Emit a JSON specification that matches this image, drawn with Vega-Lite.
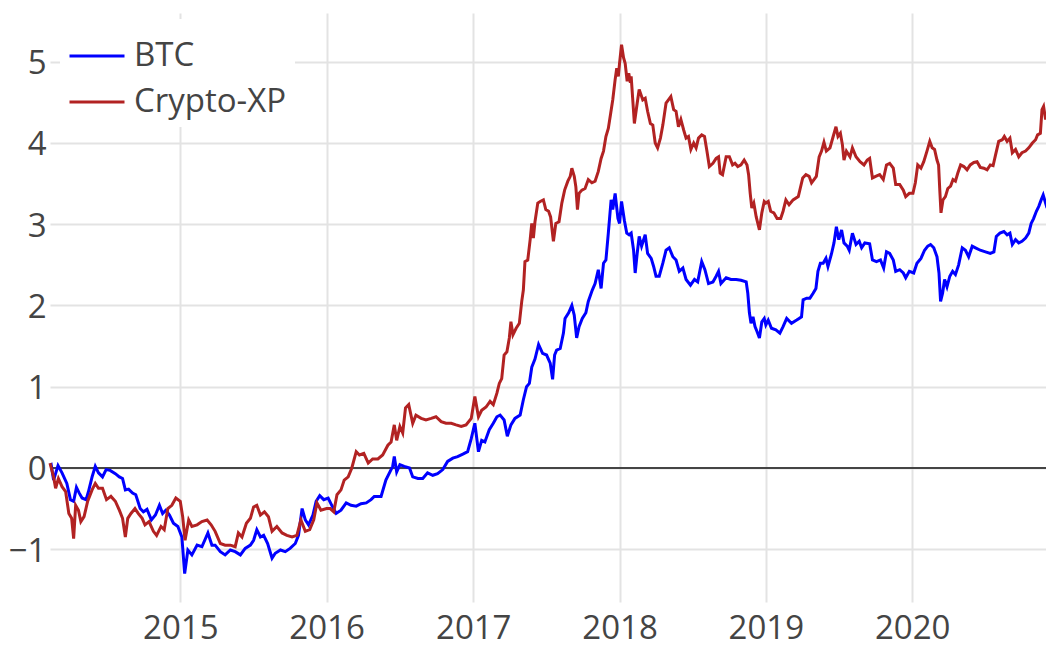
{
"$schema": "https://vega.github.io/schema/vega-lite/v6.json",
"width": 996, "height": 589,
"autosize": {"type": "none"},
"padding": {"left": 50, "top": 13, "right": 0, "bottom": 53},
"background": "white",
"config": {
  "view": {"stroke": null},
  "font": "Open Sans",
  "axis": {"domain": false, "ticks": false, "grid": true, "gridColor": "#e3e3e3", "gridWidth": 2, "labelFont": "Open Sans", "labelFontSize": 33, "labelColor": "#444", "title": null}
},
"datasets": {
"btc": [
{"d":"2014-02-10","v":0.03},{"d":"2014-02-13","v":0.04},{"d":"2014-02-19","v":-0.15},{"d":"2014-03-02","v":0.03},{"d":"2014-03-12","v":-0.06},{"d":"2014-03-24","v":-0.19},{"d":"2014-04-02","v":-0.39},{"d":"2014-04-10","v":-0.41},{"d":"2014-04-17","v":-0.24},{"d":"2014-04-24","v":-0.31},{"d":"2014-05-01","v":-0.37},{"d":"2014-05-11","v":-0.39},{"d":"2014-05-17","v":-0.29},{"d":"2014-05-26","v":-0.11},{"d":"2014-06-03","v":0.02},{"d":"2014-06-11","v":-0.06},{"d":"2014-06-21","v":-0.11},{"d":"2014-06-30","v":-0.02},{"d":"2014-07-10","v":-0.03},{"d":"2014-07-23","v":-0.07},{"d":"2014-08-02","v":-0.11},{"d":"2014-08-10","v":-0.13},{"d":"2014-08-17","v":-0.27},{"d":"2014-08-25","v":-0.26},{"d":"2014-09-04","v":-0.31},{"d":"2014-09-12","v":-0.33},{"d":"2014-09-23","v":-0.50},{"d":"2014-10-01","v":-0.54},{"d":"2014-10-10","v":-0.51},{"d":"2014-10-21","v":-0.64},{"d":"2014-10-31","v":-0.58},{"d":"2014-11-10","v":-0.46},{"d":"2014-11-18","v":-0.56},{"d":"2014-11-26","v":-0.52},{"d":"2014-12-05","v":-0.58},{"d":"2014-12-15","v":-0.68},{"d":"2014-12-26","v":-0.72},
{"d":"2015-01-05","v":-0.85},{"d":"2015-01-12","v":-1.30},{"d":"2015-01-20","v":-1.01},{"d":"2015-01-30","v":-1.07},{"d":"2015-02-12","v":-0.95},{"d":"2015-02-24","v":-0.97},{"d":"2015-03-11","v":-0.80},{"d":"2015-03-21","v":-0.95},{"d":"2015-03-29","v":-0.95},{"d":"2015-04-11","v":-1.03},{"d":"2015-04-23","v":-1.07},{"d":"2015-05-06","v":-1.01},{"d":"2015-05-18","v":-1.03},{"d":"2015-05-31","v":-1.07},{"d":"2015-06-12","v":-0.99},{"d":"2015-06-25","v":-0.95},{"d":"2015-07-03","v":-0.89},{"d":"2015-07-11","v":-0.76},{"d":"2015-07-20","v":-0.85},{"d":"2015-07-28","v":-0.83},{"d":"2015-08-07","v":-0.93},{"d":"2015-08-18","v":-1.11},{"d":"2015-08-26","v":-1.05},{"d":"2015-09-08","v":-1.01},{"d":"2015-09-20","v":-1.03},{"d":"2015-10-02","v":-0.99},{"d":"2015-10-15","v":-0.93},{"d":"2015-10-23","v":-0.83},{"d":"2015-11-01","v":-0.50},{"d":"2015-11-09","v":-0.64},{"d":"2015-11-17","v":-0.70},{"d":"2015-11-28","v":-0.58},{"d":"2015-12-06","v":-0.41},{"d":"2015-12-15","v":-0.34},{"d":"2015-12-25","v":-0.39},
{"d":"2016-01-05","v":-0.37},{"d":"2016-01-14","v":-0.46},{"d":"2016-01-25","v":-0.56},{"d":"2016-02-06","v":-0.52},{"d":"2016-02-19","v":-0.43},{"d":"2016-03-02","v":-0.46},{"d":"2016-03-15","v":-0.47},{"d":"2016-03-27","v":-0.44},{"d":"2016-04-09","v":-0.43},{"d":"2016-04-21","v":-0.39},{"d":"2016-04-29","v":-0.35},{"d":"2016-05-16","v":-0.35},{"d":"2016-05-28","v":-0.15},{"d":"2016-06-14","v":0.02},{"d":"2016-06-18","v":0.14},{"d":"2016-06-24","v":-0.05},{"d":"2016-07-02","v":0.04},{"d":"2016-07-13","v":0.02},{"d":"2016-07-26","v":0.00},{"d":"2016-08-03","v":-0.11},{"d":"2016-08-16","v":-0.13},{"d":"2016-08-28","v":-0.13},{"d":"2016-09-09","v":-0.06},{"d":"2016-09-22","v":-0.09},{"d":"2016-10-04","v":-0.07},{"d":"2016-10-17","v":-0.02},{"d":"2016-10-29","v":0.08},{"d":"2016-11-11","v":0.12},{"d":"2016-11-23","v":0.14},{"d":"2016-12-06","v":0.17},{"d":"2016-12-18","v":0.20},{"d":"2016-12-27","v":0.36},
{"d":"2017-01-05","v":0.55},{"d":"2017-01-14","v":0.20},{"d":"2017-01-22","v":0.34},{"d":"2017-01-30","v":0.32},{"d":"2017-02-10","v":0.47},{"d":"2017-02-20","v":0.55},{"d":"2017-03-01","v":0.63},{"d":"2017-03-09","v":0.65},{"d":"2017-03-19","v":0.59},{"d":"2017-03-27","v":0.39},{"d":"2017-04-05","v":0.53},{"d":"2017-04-15","v":0.61},{"d":"2017-04-28","v":0.65},{"d":"2017-05-06","v":0.84},{"d":"2017-05-14","v":1.00},{"d":"2017-05-21","v":1.04},{"d":"2017-05-27","v":1.24},{"d":"2017-06-04","v":1.34},{"d":"2017-06-13","v":1.52},{"d":"2017-06-23","v":1.41},{"d":"2017-07-03","v":1.39},{"d":"2017-07-12","v":1.29},{"d":"2017-07-18","v":1.09},{"d":"2017-07-23","v":1.39},{"d":"2017-07-28","v":1.45},{"d":"2017-08-06","v":1.47},{"d":"2017-08-14","v":1.66},{"d":"2017-08-18","v":1.84},{"d":"2017-08-27","v":1.91},{"d":"2017-09-04","v":2.00},{"d":"2017-09-10","v":1.88},{"d":"2017-09-16","v":1.60},{"d":"2017-09-22","v":1.74},{"d":"2017-09-30","v":1.84},{"d":"2017-10-09","v":1.91},{"d":"2017-10-15","v":2.05},{"d":"2017-10-25","v":2.19},{"d":"2017-11-01","v":2.27},{"d":"2017-11-09","v":2.44},{"d":"2017-11-16","v":2.21},{"d":"2017-11-22","v":2.52},{"d":"2017-11-28","v":2.56},{"d":"2017-12-04","v":2.89},{"d":"2017-12-11","v":3.30},{"d":"2017-12-15","v":3.18},{"d":"2017-12-21","v":3.38},{"d":"2017-12-28","v":3.07},
{"d":"2018-01-01","v":3.01},{"d":"2018-01-06","v":3.28},{"d":"2018-01-13","v":3.05},{"d":"2018-01-19","v":2.89},{"d":"2018-01-25","v":2.87},{"d":"2018-01-30","v":2.89},{"d":"2018-02-05","v":2.68},{"d":"2018-02-09","v":2.40},{"d":"2018-02-14","v":2.64},{"d":"2018-02-19","v":2.85},{"d":"2018-02-25","v":2.73},{"d":"2018-03-06","v":2.87},{"d":"2018-03-12","v":2.64},{"d":"2018-03-21","v":2.58},{"d":"2018-03-27","v":2.48},{"d":"2018-04-02","v":2.36},{"d":"2018-04-10","v":2.36},{"d":"2018-04-19","v":2.52},{"d":"2018-04-27","v":2.68},{"d":"2018-05-05","v":2.71},{"d":"2018-05-14","v":2.60},{"d":"2018-05-22","v":2.56},{"d":"2018-05-30","v":2.42},{"d":"2018-06-08","v":2.46},{"d":"2018-06-16","v":2.32},{"d":"2018-06-27","v":2.25},{"d":"2018-07-07","v":2.32},{"d":"2018-07-15","v":2.29},{"d":"2018-07-25","v":2.54},{"d":"2018-08-02","v":2.44},{"d":"2018-08-11","v":2.27},{"d":"2018-08-22","v":2.29},{"d":"2018-08-30","v":2.36},{"d":"2018-09-05","v":2.42},{"d":"2018-09-11","v":2.27},{"d":"2018-09-24","v":2.34},{"d":"2018-10-06","v":2.32},{"d":"2018-10-19","v":2.32},{"d":"2018-10-31","v":2.31},{"d":"2018-11-13","v":2.29},{"d":"2018-11-17","v":2.15},{"d":"2018-11-21","v":1.91},{"d":"2018-11-25","v":1.78},{"d":"2018-11-30","v":1.86},{"d":"2018-12-05","v":1.74},{"d":"2018-12-10","v":1.68},{"d":"2018-12-16","v":1.60},{"d":"2018-12-22","v":1.80},{"d":"2018-12-28","v":1.84},
{"d":"2019-01-01","v":1.76},{"d":"2019-01-07","v":1.82},{"d":"2019-01-15","v":1.72},{"d":"2019-01-26","v":1.70},{"d":"2019-02-05","v":1.66},{"d":"2019-02-13","v":1.74},{"d":"2019-02-22","v":1.84},{"d":"2019-03-06","v":1.78},{"d":"2019-03-19","v":1.82},{"d":"2019-03-25","v":1.84},{"d":"2019-03-31","v":1.86},{"d":"2019-04-04","v":2.07},{"d":"2019-04-13","v":2.09},{"d":"2019-04-21","v":2.09},{"d":"2019-04-29","v":2.15},{"d":"2019-05-06","v":2.21},{"d":"2019-05-11","v":2.42},{"d":"2019-05-17","v":2.52},{"d":"2019-05-24","v":2.52},{"d":"2019-05-31","v":2.58},{"d":"2019-06-05","v":2.48},{"d":"2019-06-14","v":2.64},{"d":"2019-06-20","v":2.77},{"d":"2019-06-26","v":2.97},{"d":"2019-07-02","v":2.81},{"d":"2019-07-09","v":2.93},{"d":"2019-07-15","v":2.77},{"d":"2019-07-23","v":2.73},{"d":"2019-07-28","v":2.68},{"d":"2019-08-05","v":2.89},{"d":"2019-08-14","v":2.75},{"d":"2019-08-22","v":2.79},{"d":"2019-08-28","v":2.71},{"d":"2019-09-05","v":2.77},{"d":"2019-09-17","v":2.76},{"d":"2019-09-24","v":2.56},{"d":"2019-10-04","v":2.54},{"d":"2019-10-14","v":2.56},{"d":"2019-10-22","v":2.46},{"d":"2019-10-29","v":2.66},{"d":"2019-11-06","v":2.64},{"d":"2019-11-15","v":2.56},{"d":"2019-11-21","v":2.42},{"d":"2019-12-01","v":2.44},{"d":"2019-12-10","v":2.40},{"d":"2019-12-16","v":2.34},{"d":"2019-12-25","v":2.42},
{"d":"2020-01-05","v":2.40},{"d":"2020-01-13","v":2.52},{"d":"2020-01-23","v":2.58},{"d":"2020-02-01","v":2.68},{"d":"2020-02-09","v":2.73},{"d":"2020-02-16","v":2.75},{"d":"2020-02-24","v":2.71},{"d":"2020-03-03","v":2.60},{"d":"2020-03-08","v":2.40},{"d":"2020-03-12","v":2.05},{"d":"2020-03-17","v":2.15},{"d":"2020-03-22","v":2.32},{"d":"2020-03-28","v":2.23},{"d":"2020-04-04","v":2.36},{"d":"2020-04-11","v":2.42},{"d":"2020-04-18","v":2.38},{"d":"2020-04-26","v":2.50},{"d":"2020-05-05","v":2.71},{"d":"2020-05-13","v":2.68},{"d":"2020-05-21","v":2.60},{"d":"2020-05-30","v":2.73},{"d":"2020-06-07","v":2.71},{"d":"2020-06-19","v":2.68},{"d":"2020-07-02","v":2.66},{"d":"2020-07-14","v":2.64},{"d":"2020-07-23","v":2.66},{"d":"2020-07-29","v":2.85},{"d":"2020-08-07","v":2.89},{"d":"2020-08-17","v":2.91},{"d":"2020-08-25","v":2.87},{"d":"2020-09-01","v":2.89},{"d":"2020-09-07","v":2.75},{"d":"2020-09-15","v":2.81},{"d":"2020-09-23","v":2.77},{"d":"2020-10-01","v":2.79},{"d":"2020-10-10","v":2.83},{"d":"2020-10-18","v":2.89},{"d":"2020-10-24","v":3.01},{"d":"2020-10-30","v":3.07},{"d":"2020-11-06","v":3.16},{"d":"2020-11-12","v":3.22},{"d":"2020-11-18","v":3.30},{"d":"2020-11-23","v":3.36},{"d":"2020-11-29","v":3.26},{"d":"2020-11-30","v":3.28}
],
"xp": [
{"d":"2014-02-10","v":0.06},{"d":"2014-02-19","v":-0.11},{"d":"2014-02-24","v":-0.25},{"d":"2014-03-03","v":-0.13},{"d":"2014-03-12","v":-0.23},{"d":"2014-03-21","v":-0.29},{"d":"2014-03-29","v":-0.56},{"d":"2014-04-05","v":-0.62},{"d":"2014-04-10","v":-0.87},{"d":"2014-04-15","v":-0.46},{"d":"2014-04-22","v":-0.52},{"d":"2014-04-28","v":-0.66},{"d":"2014-05-06","v":-0.60},{"d":"2014-05-15","v":-0.41},{"d":"2014-05-26","v":-0.27},{"d":"2014-06-03","v":-0.19},{"d":"2014-06-11","v":-0.25},{"d":"2014-06-21","v":-0.25},{"d":"2014-07-01","v":-0.39},{"d":"2014-07-12","v":-0.35},{"d":"2014-07-23","v":-0.41},{"d":"2014-08-02","v":-0.52},{"d":"2014-08-10","v":-0.62},{"d":"2014-08-17","v":-0.85},{"d":"2014-08-23","v":-0.62},{"d":"2014-08-31","v":-0.56},{"d":"2014-09-10","v":-0.50},{"d":"2014-09-18","v":-0.56},{"d":"2014-09-28","v":-0.62},{"d":"2014-10-05","v":-0.70},{"d":"2014-10-15","v":-0.66},{"d":"2014-10-26","v":-0.78},{"d":"2014-11-03","v":-0.83},{"d":"2014-11-14","v":-0.72},{"d":"2014-11-22","v":-0.76},{"d":"2014-12-01","v":-0.50},{"d":"2014-12-11","v":-0.46},{"d":"2014-12-21","v":-0.37},
{"d":"2015-01-01","v":-0.41},{"d":"2015-01-07","v":-0.60},{"d":"2015-01-13","v":-0.89},{"d":"2015-01-22","v":-0.64},{"d":"2015-01-30","v":-0.72},{"d":"2015-02-12","v":-0.70},{"d":"2015-02-24","v":-0.66},{"d":"2015-03-09","v":-0.64},{"d":"2015-03-19","v":-0.70},{"d":"2015-03-29","v":-0.78},{"d":"2015-04-11","v":-0.93},{"d":"2015-04-23","v":-0.95},{"d":"2015-05-06","v":-0.95},{"d":"2015-05-18","v":-0.97},{"d":"2015-05-26","v":-0.80},{"d":"2015-06-04","v":-0.85},{"d":"2015-06-15","v":-0.68},{"d":"2015-06-25","v":-0.62},{"d":"2015-07-03","v":-0.48},{"d":"2015-07-11","v":-0.46},{"d":"2015-07-20","v":-0.58},{"d":"2015-07-30","v":-0.54},{"d":"2015-08-09","v":-0.60},{"d":"2015-08-18","v":-0.78},{"d":"2015-08-30","v":-0.72},{"d":"2015-09-12","v":-0.80},{"d":"2015-09-24","v":-0.83},{"d":"2015-10-07","v":-0.85},{"d":"2015-10-19","v":-0.83},{"d":"2015-10-29","v":-0.64},{"d":"2015-11-09","v":-0.78},{"d":"2015-11-20","v":-0.76},{"d":"2015-11-30","v":-0.64},{"d":"2015-12-08","v":-0.43},{"d":"2015-12-18","v":-0.52},
{"d":"2016-01-01","v":-0.50},{"d":"2016-01-10","v":-0.50},{"d":"2016-01-19","v":-0.54},{"d":"2016-01-27","v":-0.33},{"d":"2016-02-06","v":-0.27},{"d":"2016-02-14","v":-0.15},{"d":"2016-02-24","v":-0.11},{"d":"2016-03-04","v":0.00},{"d":"2016-03-15","v":0.20},{"d":"2016-03-23","v":0.16},{"d":"2016-04-03","v":0.18},{"d":"2016-04-14","v":0.06},{"d":"2016-04-25","v":0.11},{"d":"2016-05-08","v":0.11},{"d":"2016-05-20","v":0.16},{"d":"2016-06-02","v":0.28},{"d":"2016-06-10","v":0.32},{"d":"2016-06-18","v":0.53},{"d":"2016-06-24","v":0.34},{"d":"2016-07-02","v":0.51},{"d":"2016-07-09","v":0.43},{"d":"2016-07-16","v":0.74},{"d":"2016-07-24","v":0.78},{"d":"2016-08-03","v":0.55},{"d":"2016-08-11","v":0.65},{"d":"2016-08-24","v":0.61},{"d":"2016-09-05","v":0.59},{"d":"2016-09-18","v":0.61},{"d":"2016-09-30","v":0.63},{"d":"2016-10-13","v":0.57},{"d":"2016-10-25","v":0.55},{"d":"2016-11-07","v":0.55},{"d":"2016-11-19","v":0.53},{"d":"2016-12-02","v":0.51},{"d":"2016-12-14","v":0.53},{"d":"2016-12-27","v":0.61},
{"d":"2017-01-05","v":0.88},{"d":"2017-01-14","v":0.63},{"d":"2017-01-22","v":0.71},{"d":"2017-02-02","v":0.75},{"d":"2017-02-12","v":0.82},{"d":"2017-02-20","v":0.78},{"d":"2017-03-01","v":0.92},{"d":"2017-03-07","v":1.04},{"d":"2017-03-13","v":1.10},{"d":"2017-03-19","v":1.39},{"d":"2017-03-26","v":1.43},{"d":"2017-04-01","v":1.60},{"d":"2017-04-05","v":1.80},{"d":"2017-04-10","v":1.64},{"d":"2017-04-18","v":1.72},{"d":"2017-04-26","v":1.78},{"d":"2017-05-02","v":2.05},{"d":"2017-05-06","v":2.19},{"d":"2017-05-10","v":2.54},{"d":"2017-05-17","v":2.56},{"d":"2017-05-23","v":2.81},{"d":"2017-05-27","v":3.01},{"d":"2017-05-31","v":2.83},{"d":"2017-06-04","v":3.03},{"d":"2017-06-11","v":3.26},{"d":"2017-06-17","v":3.28},{"d":"2017-06-25","v":3.30},{"d":"2017-07-01","v":3.18},{"d":"2017-07-08","v":3.16},{"d":"2017-07-13","v":3.09},{"d":"2017-07-20","v":2.79},{"d":"2017-07-26","v":3.01},{"d":"2017-08-03","v":3.03},{"d":"2017-08-10","v":3.26},{"d":"2017-08-17","v":3.42},{"d":"2017-08-25","v":3.53},{"d":"2017-08-31","v":3.59},{"d":"2017-09-04","v":3.69},{"d":"2017-09-10","v":3.59},{"d":"2017-09-14","v":3.46},{"d":"2017-09-18","v":3.18},{"d":"2017-09-22","v":3.38},{"d":"2017-09-29","v":3.42},{"d":"2017-10-07","v":3.44},{"d":"2017-10-15","v":3.55},{"d":"2017-10-24","v":3.51},{"d":"2017-11-01","v":3.53},{"d":"2017-11-09","v":3.65},{"d":"2017-11-16","v":3.81},{"d":"2017-11-22","v":3.90},{"d":"2017-11-28","v":4.08},{"d":"2017-12-04","v":4.18},{"d":"2017-12-10","v":4.37},{"d":"2017-12-15","v":4.53},{"d":"2017-12-21","v":4.78},{"d":"2017-12-25","v":4.92},{"d":"2017-12-29","v":4.82},
{"d":"2018-01-01","v":4.98},{"d":"2018-01-06","v":5.21},{"d":"2018-01-11","v":5.05},{"d":"2018-01-15","v":4.98},{"d":"2018-01-20","v":4.76},{"d":"2018-01-24","v":4.86},{"d":"2018-01-28","v":4.74},{"d":"2018-01-30","v":4.82},{"d":"2018-02-07","v":4.24},{"d":"2018-02-14","v":4.49},{"d":"2018-02-19","v":4.66},{"d":"2018-02-28","v":4.53},{"d":"2018-03-06","v":4.55},{"d":"2018-03-12","v":4.39},{"d":"2018-03-19","v":4.24},{"d":"2018-03-25","v":4.22},{"d":"2018-03-31","v":4.00},{"d":"2018-04-06","v":3.94},{"d":"2018-04-13","v":4.06},{"d":"2018-04-19","v":4.22},{"d":"2018-04-27","v":4.49},{"d":"2018-05-03","v":4.53},{"d":"2018-05-09","v":4.57},{"d":"2018-05-16","v":4.41},{"d":"2018-05-22","v":4.39},{"d":"2018-05-28","v":4.20},{"d":"2018-06-03","v":4.29},{"d":"2018-06-10","v":4.16},{"d":"2018-06-16","v":4.06},{"d":"2018-06-22","v":4.08},{"d":"2018-06-28","v":3.92},{"d":"2018-07-05","v":4.00},{"d":"2018-07-11","v":3.94},{"d":"2018-07-17","v":4.06},{"d":"2018-07-25","v":4.10},{"d":"2018-08-01","v":4.08},{"d":"2018-08-07","v":3.90},{"d":"2018-08-13","v":3.71},{"d":"2018-08-22","v":3.75},{"d":"2018-08-30","v":3.81},{"d":"2018-09-05","v":3.83},{"d":"2018-09-09","v":3.63},{"d":"2018-09-15","v":3.61},{"d":"2018-09-24","v":3.83},{"d":"2018-10-02","v":3.83},{"d":"2018-10-10","v":3.73},{"d":"2018-10-16","v":3.75},{"d":"2018-10-23","v":3.71},{"d":"2018-10-31","v":3.73},{"d":"2018-11-08","v":3.79},{"d":"2018-11-15","v":3.73},{"d":"2018-11-19","v":3.61},{"d":"2018-11-23","v":3.38},{"d":"2018-11-27","v":3.20},{"d":"2018-12-02","v":3.26},{"d":"2018-12-08","v":3.09},{"d":"2018-12-16","v":2.93},{"d":"2018-12-22","v":3.14},{"d":"2018-12-28","v":3.28},
{"d":"2019-01-01","v":3.26},{"d":"2019-01-07","v":3.28},{"d":"2019-01-13","v":3.16},{"d":"2019-01-21","v":3.14},{"d":"2019-01-29","v":3.07},{"d":"2019-02-07","v":3.07},{"d":"2019-02-13","v":3.16},{"d":"2019-02-20","v":3.30},{"d":"2019-02-28","v":3.24},{"d":"2019-03-10","v":3.30},{"d":"2019-03-23","v":3.34},{"d":"2019-04-03","v":3.57},{"d":"2019-04-11","v":3.61},{"d":"2019-04-19","v":3.59},{"d":"2019-04-25","v":3.51},{"d":"2019-05-07","v":3.59},{"d":"2019-05-14","v":3.83},{"d":"2019-05-20","v":3.90},{"d":"2019-05-26","v":4.01},{"d":"2019-06-01","v":3.90},{"d":"2019-06-10","v":3.94},{"d":"2019-06-18","v":4.08},{"d":"2019-06-25","v":4.20},{"d":"2019-06-30","v":4.08},{"d":"2019-07-06","v":4.12},{"d":"2019-07-11","v":3.98},{"d":"2019-07-15","v":3.79},{"d":"2019-07-21","v":3.90},{"d":"2019-07-30","v":3.83},{"d":"2019-08-05","v":3.94},{"d":"2019-08-14","v":3.83},{"d":"2019-08-24","v":3.77},{"d":"2019-09-03","v":3.73},{"d":"2019-09-11","v":3.79},{"d":"2019-09-17","v":3.81},{"d":"2019-09-24","v":3.57},{"d":"2019-10-02","v":3.59},{"d":"2019-10-12","v":3.61},{"d":"2019-10-21","v":3.55},{"d":"2019-10-29","v":3.73},{"d":"2019-11-06","v":3.75},{"d":"2019-11-15","v":3.69},{"d":"2019-11-21","v":3.49},{"d":"2019-12-01","v":3.49},{"d":"2019-12-10","v":3.42},{"d":"2019-12-16","v":3.34},{"d":"2019-12-25","v":3.38},
{"d":"2020-01-03","v":3.38},{"d":"2020-01-09","v":3.51},{"d":"2020-01-15","v":3.73},{"d":"2020-01-23","v":3.69},{"d":"2020-01-30","v":3.77},{"d":"2020-02-07","v":3.90},{"d":"2020-02-14","v":4.02},{"d":"2020-02-20","v":3.94},{"d":"2020-02-26","v":3.92},{"d":"2020-03-03","v":3.79},{"d":"2020-03-07","v":3.73},{"d":"2020-03-10","v":3.42},{"d":"2020-03-13","v":3.14},{"d":"2020-03-18","v":3.30},{"d":"2020-03-24","v":3.34},{"d":"2020-03-30","v":3.44},{"d":"2020-04-06","v":3.47},{"d":"2020-04-12","v":3.55},{"d":"2020-04-18","v":3.53},{"d":"2020-04-24","v":3.63},{"d":"2020-05-01","v":3.73},{"d":"2020-05-09","v":3.71},{"d":"2020-05-17","v":3.67},{"d":"2020-05-25","v":3.73},{"d":"2020-06-03","v":3.76},{"d":"2020-06-11","v":3.77},{"d":"2020-06-19","v":3.70},{"d":"2020-06-28","v":3.69},{"d":"2020-07-06","v":3.67},{"d":"2020-07-14","v":3.73},{"d":"2020-07-21","v":3.72},{"d":"2020-07-27","v":3.85},{"d":"2020-08-04","v":4.02},{"d":"2020-08-13","v":4.04},{"d":"2020-08-18","v":4.08},{"d":"2020-08-25","v":4.02},{"d":"2020-09-01","v":4.06},{"d":"2020-09-07","v":3.88},{"d":"2020-09-15","v":3.92},{"d":"2020-09-23","v":3.83},{"d":"2020-10-01","v":3.88},{"d":"2020-10-10","v":3.90},{"d":"2020-10-18","v":3.94},{"d":"2020-10-27","v":4.00},{"d":"2020-11-04","v":4.04},{"d":"2020-11-09","v":4.10},{"d":"2020-11-16","v":4.12},{"d":"2020-11-20","v":4.41},{"d":"2020-11-24","v":4.45},{"d":"2020-11-29","v":4.29},{"d":"2020-11-30","v":4.33}
]
},
"layer": [
  {
    "data": {"values": [{"z": 0}]},
    "mark": {"type": "rule", "color": "#444", "strokeWidth": 2},
    "encoding": {"y": {"field": "z", "type": "quantitative"}}
  },
  {
    "data": {"name": "btc"},
    "transform": [{"calculate": "'BTC'", "as": "s"}],
    "mark": {"type": "line", "strokeWidth": 3},
    "encoding": {
      "x": {"field": "d", "type": "temporal"},
      "y": {"field": "v", "type": "quantitative"},
      "color": {"field": "s", "type": "nominal"}
    }
  },
  {
    "data": {"name": "xp"},
    "transform": [{"calculate": "'Crypto-XP'", "as": "s"}],
    "mark": {"type": "line", "strokeWidth": 3},
    "encoding": {
      "x": {"field": "d", "type": "temporal",
        "scale": {"domain": [{"year": 2014, "month": 2, "date": 10}, {"year": 2020, "month": 11, "date": 30}]},
        "axis": {"format": "%Y", "tickCount": {"interval": "year", "step": 1}, "labelPadding": 10}},
      "y": {"field": "v", "type": "quantitative",
        "scale": {"domain": [-1.65, 5.6], "nice": false, "zero": false},
        "axis": {"values": [-1, 0, 1, 2, 3, 4, 5], "format": "d", "labelPadding": 4, "labelOffset": 2}},
      "color": {"field": "s", "type": "nominal",
        "scale": {"domain": ["BTC", "Crypto-XP"], "range": ["#0000ff", "#b22222"]},
        "legend": {"title": null, "orient": "none", "legendX": 10, "legendY": 6, "fillColor": "white", "padding": 8,
          "symbolType": "stroke", "symbolSize": 3025, "symbolStrokeWidth": 3, "labelFont": "Open Sans", "labelFontSize": 33,
          "labelColor": "#444", "labelOffset": 8, "rowPadding": -2}}
    }
  }
]
}
